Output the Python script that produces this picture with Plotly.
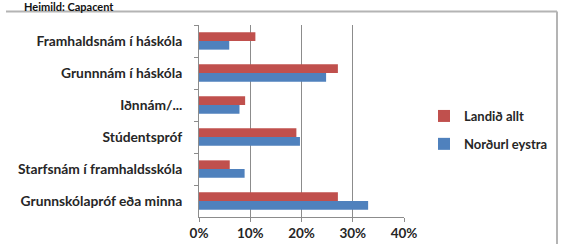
import plotly.graph_objects as go

categories = ["Framhaldsnám í háskóla", "Grunnnám í háskóla", "Iðnnám/...",
              "Stúdentspróf", "Starfsnám í framhaldsskóla", "Grunnskólapróf eða minna"]
landid_allt = [0.11, 0.271, 0.09, 0.19, 0.06, 0.271]
nordurl_eystra = [0.059, 0.248, 0.079, 0.197, 0.089, 0.33]
x_ticks = [0, 0.1, 0.2, 0.3, 0.4]
x_tick_labels = ["0%", "10%", "20%", "30%", "40%"]

W, H = 563, 244
L, R, T, B = 199, 404, 24.5, 217.5

def px(x):
    return (x - L) / (R - L)

def py(y):
    return (B - y) / (B - T)

FONT = "Lato"
TXT = "#262626"
fig = go.Figure()
fig.add_trace(go.Bar(y=categories, x=landid_allt, orientation="h", name="Landið allt",
                     legendgroup="a", marker=dict(color="#C0504D", line=dict(width=0))))
fig.add_trace(go.Bar(y=categories, x=nordurl_eystra, orientation="h", name="Norðurl eystra",
                     legendgroup="b", marker=dict(color="#4F81BD", line=dict(width=0))))

fig.update_layout(
    width=W, height=H,
    margin=dict(l=L, r=W - R, t=T, b=H - B, autoexpand=False),
    paper_bgcolor="white", plot_bgcolor="white",
    barmode="group", bargap=0.46, bargroupgap=0,
    font=dict(family=FONT, size=13, color=TXT),
    showlegend=True,
    legend=dict(xref="container", yref="container", x=424 / W, y=1 - 130 / H,
                xanchor="left", yanchor="middle", traceorder="grouped",
                font=dict(family=FONT, size=13, color=TXT, weight="bold"),
                itemwidth=30, tracegroupgap=8, bgcolor="rgba(0,0,0,0)"),
    xaxis=dict(range=[0, 0.4], tickvals=x_ticks, ticktext=x_tick_labels, automargin=False,
               showgrid=True, gridcolor="#8c8c8c", gridwidth=1,
               showline=True, linecolor="#8c8c8c", linewidth=1,
               ticks="outside", ticklen=4, tickcolor="#8c8c8c",
               tickfont=dict(family=FONT, size=13.5, color=TXT, weight="bold"),
               zeroline=False, fixedrange=True),
    yaxis=dict(autorange="reversed", automargin=False, showline=True, linecolor="#8c8c8c", linewidth=1,
               ticks="outside", ticklen=4, tickcolor="#8c8c8c", ticklabelstandoff=13,
               tickson="boundaries", showgrid=False,
               tickfont=dict(family=FONT, size=13.8, color=TXT, weight="bold"),
               fixedrange=True),
    shapes=[
        dict(type="line", xref="paper", yref="paper", x0=px(6), x1=px(557), y0=py(11), y1=py(11),
             line=dict(color="#b4b4b4", width=2)),
        dict(type="line", xref="paper", yref="paper", x0=px(557), x1=px(557), y0=py(11), y1=py(246),
             line=dict(color="#b4b4b4", width=2)),
    ],
    annotations=[
        dict(text="<b>Heimild: Capacent</b>", xref="paper", yref="paper", x=0, y=1,
             xanchor="left", yanchor="middle", xshift=22 - L, yshift=T - 5.5,
             showarrow=False, font=dict(family=FONT, size=11, color="#111111")),
    ],
)

fig.write_html("out.html", config={"displayModeBar": False, "staticPlot": True},
               post_script="document.body.style.margin='0';document.body.style.padding='0';")
